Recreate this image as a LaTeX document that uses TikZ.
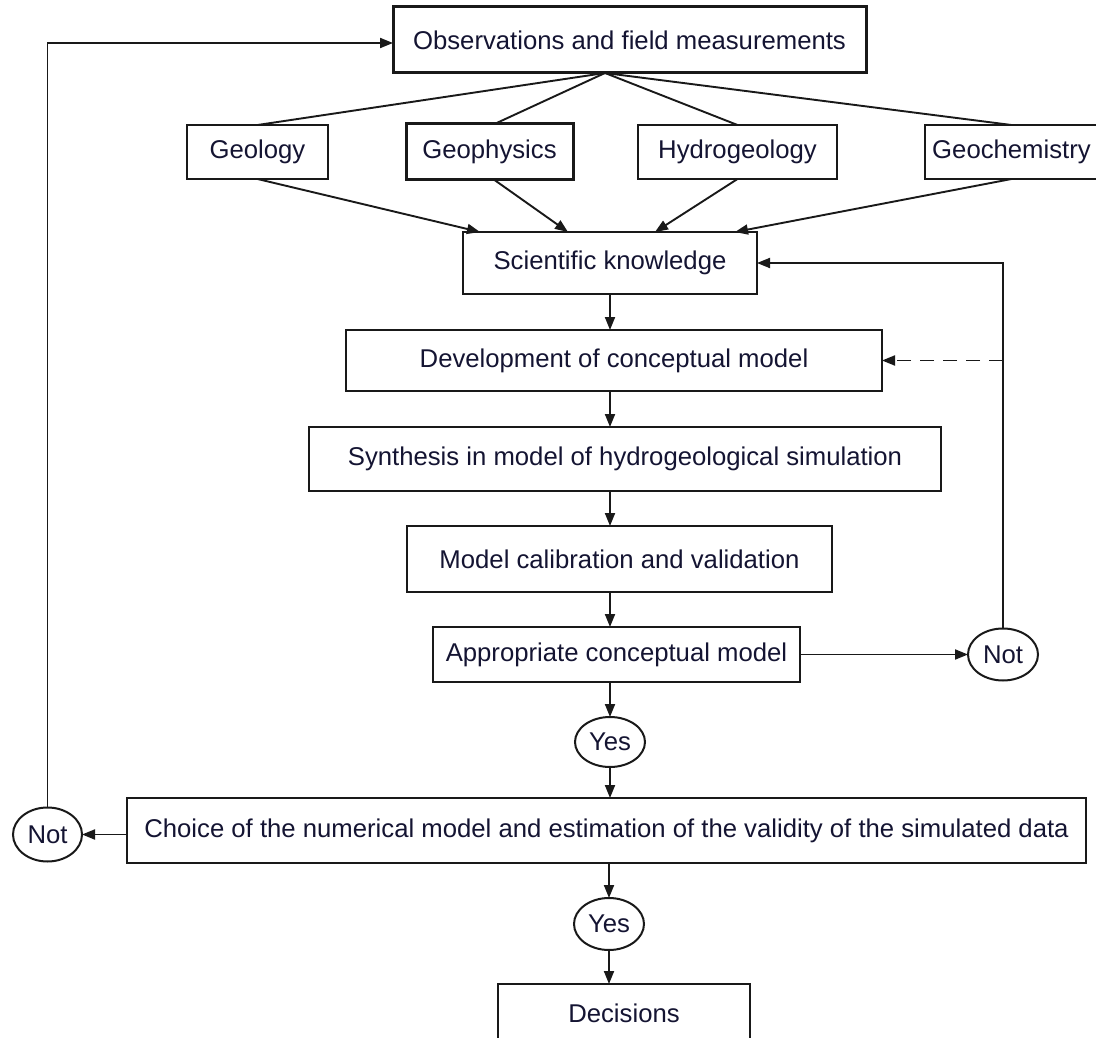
\documentclass[tikz,border=0pt]{standalone}
\usepackage{fontspec}
\setmainfont{Liberation Sans}
\usepackage{tikz}
\usetikzlibrary{arrows.meta, positioning, calc, shapes.geometric}
\definecolor{ink}{RGB}{25,25,25}
\definecolor{txt}{RGB}{20,20,50}

\begin{document}
\begin{tikzpicture}[x=1pt, y=1pt,
      box/.style={rectangle, draw=ink, line width=2pt, inner sep=0pt, outer sep=0pt,
                  align=center, text=txt, font=\fontsize{25.7}{30}\selectfont},
      heavy/.style={box, line width=3pt},
      answer/.style={ellipse, draw=ink, line width=2pt, inner sep=0pt, outer sep=0pt,
                     minimum width=70pt, minimum height=52pt, text=txt,
                     font=\fontsize{25.7}{30}\selectfont},
      arr/.style={-{Triangle[length=13pt, width=10pt]}, line width=1.9pt, ink},
      link/.style={line width=1.9pt, ink},
      ]
    \useasboundingbox (0,0) rectangle (1096,-1038);

    % top: observations and the four disciplines
    \node[heavy, minimum width=473pt, minimum height=66pt] (obs) at (629.5,-40) {Observations and field measurements};
    \node[box, minimum width=141pt, minimum height=54pt] (geo) at (257.5,-152) {Geology};
    \node[heavy, minimum width=167pt, minimum height=56pt, right=78pt of geo] (gph) {Geophysics};
    \node[box, minimum width=199pt, minimum height=54pt, right=65pt of gph] (hyd) {Hydrogeology};
    \node[box, minimum width=173pt, minimum height=54pt, right=88pt of hyd] (gch) {Geochemistry};

    % main chain
    \node[box, minimum width=294pt, minimum height=62pt] (sci) at (610,-263) {Scientific knowledge};
    \node[box, minimum width=536pt, minimum height=61pt, below=36pt of sci, xshift=4pt] (dev) {Development of conceptual model};
    \node[box, minimum width=632pt, minimum height=64pt, below=36pt of dev, xshift=11pt] (syn) {Synthesis in model of hydrogeological simulation};
    \node[box, minimum width=425pt, minimum height=66pt, below=35pt of syn, xshift=-5.5pt] (cal) {Model calibration and validation};
    \node[box, minimum width=367pt, minimum height=55pt, below=35pt of cal, xshift=-3pt] (app) {Appropriate conceptual model};
    \node[answer, right=168pt of app] (notr) {Not};
    \node[answer, minimum height=50pt, below=35pt of app, xshift=-6.5pt] (yes1) {Yes};
    \node[box, line width=2.8pt, minimum width=959pt, minimum height=65pt, below=31pt of yes1, xshift=-3.5pt] (cho) {Choice of the numerical model and estimation of the validity of the simulated data};
    \node[answer, minimum width=69pt, minimum height=54pt, left=45pt of cho, yshift=-4pt] (notl) {Not};
    \node[answer, below=35pt of cho, xshift=2.5pt] (yes2) {Yes};
    \node[box, minimum width=252pt, minimum height=58pt, below=34pt of yes2, xshift=15pt] (decide) {Decisions};

    % fan out and back in
    \coordinate (fan) at ([xshift=-24.5pt]obs.south);
    \draw[link] (fan) -- (geo.north);
    \draw[link] (fan) -- ([xshift=5pt]gph.north);
    \draw[link] (fan) -- (hyd.north);
    \draw[link] (fan) -- (gch.north);
    \draw[arr] (geo.south) -- ([xshift=17pt]sci.north west);
    \draw[arr] ([xshift=5pt]gph.south) -- ([xshift=-42pt]sci.north);
    \draw[arr] (hyd.south) -- ([xshift=45pt]sci.north);
    \draw[arr] (gch.south) -- ([xshift=-22pt]sci.north east);

    \draw[arr] (sci.south) -- (sci.south |- dev.north);
    \draw[arr] (dev.south -| sci.south) -- (syn.north -| sci.south);
    \draw[arr] (syn.south -| sci.south) -- (cal.north -| sci.south);
    \draw[arr] (cal.south -| sci.south) -- (app.north -| sci.south);
    \draw[arr] (app.south -| yes1) -- (yes1.north);
    \draw[arr] (yes1.south) -- (yes1.south |- cho.north);
    \draw[arr] (cho.south -| yes2) -- (yes2.north);
    \draw[arr] (yes2.south) -- (yes2.south |- decide.north);

    % loops back
    \draw[arr] (app.east) -- (notr.west);
    \draw[arr] (notr.north) |- (sci.east);
    \draw[arr, dash pattern=on 14pt off 9pt] (notr.north |- dev.east) -- (dev.east);
    \draw[arr] (cho.west |- notl) -- (notl.east);
    \draw[arr] (notl.north) |- ([yshift=-3pt]obs.west);
  \end{tikzpicture}
\end{document}
